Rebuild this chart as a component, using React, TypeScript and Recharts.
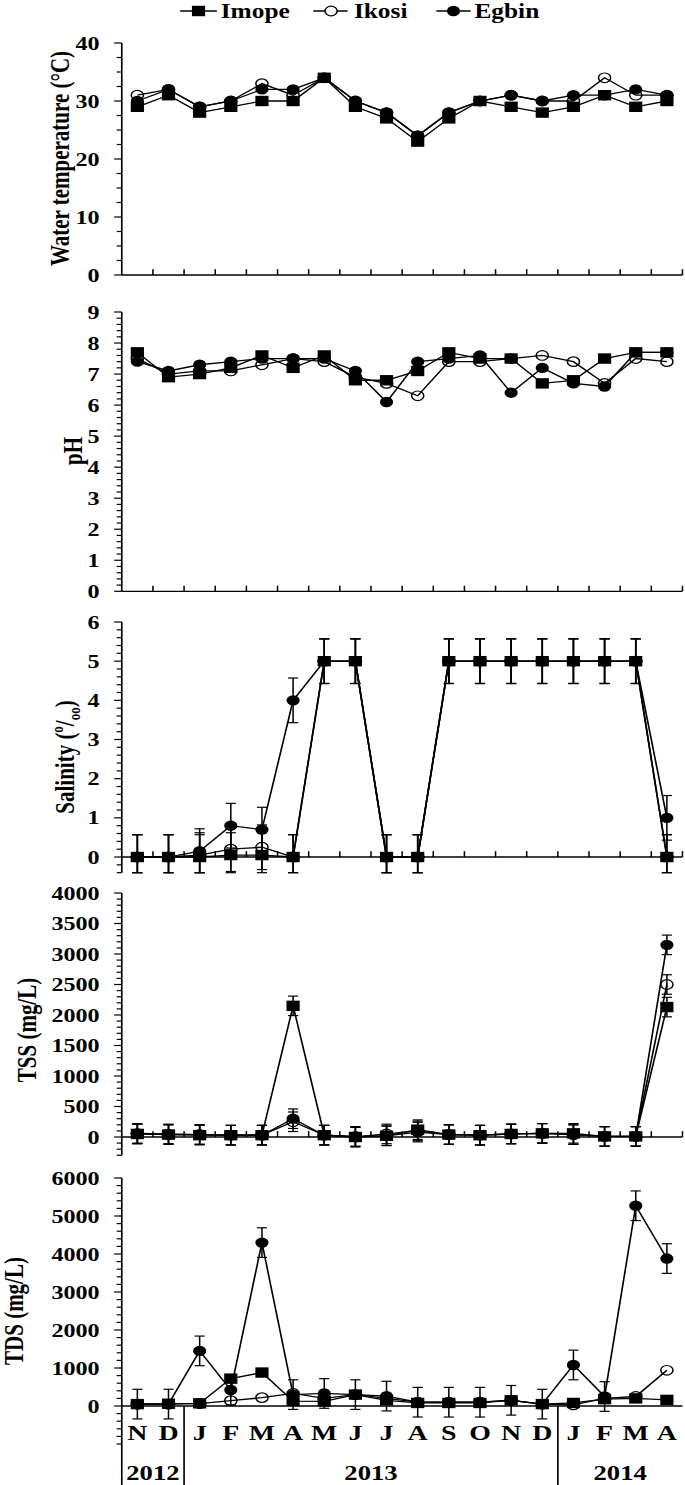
import React from "react";
import { LineChart, Line, XAxis, YAxis, ReferenceLine, ErrorBar } from "recharts";

// sampling months, Nov 2012 .. Apr 2014
const MONTHS = ["N", "D", "J", "F", "M", "A", "M", "J", "J", "A", "S", "O", "N", "D", "J", "F", "M", "A"];
const YEARS = ["2012", "2013", "2014"];
const YEAR_FIRST = [0, 2, 14];
const YEAR_LAST = [1, 13, 17];

const TEMP_IMOPE = [29, 31, 28, 29, 30, 30, 34, 29, 27, 23, 27, 30, 29, 28, 29, 31, 29, 30];
const TEMP_IKOSI = [31, 32, 29, 30, 33, 31, 34, 30, 28, 24, 28, 30, 31, 30, 30, 34, 31, 31];
const TEMP_EGBIN = [30, 32, 29, 30, 32, 32, 34, 30, 28, 24, 28, 30, 31, 30, 31, 31, 32, 31];

const PH_IMOPE = [7.7, 6.9, 7.0, 7.2, 7.6, 7.2, 7.6, 6.8, 6.8, 7.1, 7.7, 7.5, 7.5, 6.7, 6.8, 7.5, 7.7, 7.7];
const PH_IKOSI = [7.5, 7.0, 7.1, 7.1, 7.3, 7.5, 7.4, 6.9, 6.7, 6.3, 7.4, 7.4, 7.5, 7.6, 7.4, 6.7, 7.5, 7.4];
const PH_EGBIN = [7.4, 7.1, 7.3, 7.4, 7.5, 7.5, 7.5, 7.1, 6.1, 7.4, 7.5, 7.6, 6.4, 7.2, 6.7, 6.6, 7.7, 7.7];

const SAL_IMOPE = [0, 0, 0, 0.05, 0.05, 0, 5, 5, 0, 0, 5, 5, 5, 5, 5, 5, 5, 0];
const SAL_IKOSI = [0, 0, 0.05, 0.2, 0.25, 0, 5, 5, 0, 0, 5, 5, 5, 5, 5, 5, 5, 0];
const SAL_EGBIN = [0, 0, 0.15, 0.8, 0.7, 4, 5, 5, 0, 0, 5, 5, 5, 5, 5, 5, 5, 1];

const TSS_IMOPE = [50, 40, 30, 30, 30, 2150, 30, 0, 20, 120, 40, 30, 50, 60, 60, 10, 10, 2130];
const TSS_IKOSI = [50, 40, 40, 30, 30, 250, 30, 0, 50, 100, 40, 30, 50, 60, 40, 10, 10, 2500];
const TSS_EGBIN = [60, 50, 40, 30, 30, 300, 30, 10, 20, 80, 40, 30, 50, 60, 40, 10, 10, 3150];

const TDS_IMOPE = [50, 60, 70, 720, 880, 130, 120, 300, 150, 80, 80, 80, 150, 50, 80, 180, 200, 160];
const TDS_IKOSI = [50, 50, 60, 140, 220, 330, 200, 300, 200, 100, 100, 100, 150, 50, 30, 200, 250, 940];
const TDS_EGBIN = [50, 50, 1450, 420, 4300, 300, 330, 300, 260, 100, 100, 100, 150, 50, 1080, 250, 5270, 3880];

// fixed-size error bars
const SAL_ERR = 0.57;
const TSS_ERR = 160;
const TDS_ERR = 390;

// the source figure is stretched sideways, so draw narrow and scale it out
const W = 540;
const STRETCH = 685 / W;
const AXIS_W = 96;
const YEAR_ROW = 42;
const FONT = '"Liberation Serif", "Times New Roman", serif';
const BOUNDS = MONTHS.slice(1).map((_, i) => i + 0.5).concat(MONTHS.length - 0.5);
const MONTH_IDX = MONTHS.map((_, i) => i);
const YEAR_EDGES = YEAR_FIRST.map((f) => f - 0.5);
const YEAR_MIDS = YEAR_FIRST.map((f, j) => (f + YEAR_LAST[j]) / 2);

type Series = "imope" | "ikosi" | "egbin";

type Panel = {
  id: string;
  top: number;
  bottom: number;
  domain: [number, number];
  major: number[];
  minor: number;
  imope: number[];
  ikosi: number[];
  egbin: number[];
  err?: number;
  errOn?: Series[];
  xTick?: number;
  months?: boolean;
  floor?: number;
};

const PANELS: Panel[] = [
  { id: "temp", top: 43, bottom: 275, domain: [0, 40], major: [0, 10, 20, 30, 40], minor: 2.5,
    imope: TEMP_IMOPE, ikosi: TEMP_IKOSI, egbin: TEMP_EGBIN, xTick: 1 },
  { id: "ph", top: 311.7, bottom: 591, domain: [0, 9], major: [0, 1, 2, 3, 4, 5, 6, 7, 8, 9], minor: 0.2,
    imope: PH_IMOPE, ikosi: PH_IKOSI, egbin: PH_EGBIN, xTick: 0.18 },
  { id: "sal", top: 622, bottom: 872.7, domain: [-0.4, 6], major: [0, 1, 2, 3, 4, 5, 6], minor: 0.2,
    imope: SAL_IMOPE, ikosi: SAL_IKOSI, egbin: SAL_EGBIN, err: SAL_ERR, errOn: ["imope", "ikosi", "egbin"], xTick: 0.15 },
  { id: "tss", top: 893, bottom: 1155.3, domain: [-300, 4000], major: [0, 500, 1000, 1500, 2000, 2500, 3000, 3500, 4000], minor: 100,
    imope: TSS_IMOPE, ikosi: TSS_IKOSI, egbin: TSS_EGBIN, err: TSS_ERR, errOn: ["imope", "ikosi", "egbin"], xTick: 95 },
  { id: "tds", top: 1178, bottom: 1444, domain: [-1000, 6000], major: [0, 1000, 2000, 3000, 4000, 5000, 6000], minor: 200,
    imope: TDS_IMOPE, ikosi: TDS_IKOSI, egbin: TDS_EGBIN, err: TDS_ERR, errOn: ["egbin"], months: true, floor: -2110 },
];

function axisTicks(p: Panel) {
  const out: number[] = [];
  for (let v = p.domain[0]; v <= p.domain[1] + 1e-9; v += p.minor) out.push(Math.round(v * 1000) / 1000);
  return out;
}

const square = (d: any) => (
  <rect key={d.index} x={d.cx - 5.2} y={d.cy - 5.2} width={10.4} height={10.4} fill="#000" />
);
const ring = (d: any) => (
  <circle key={d.index} cx={d.cx} cy={d.cy} r={4.8} fill="none" stroke="#000" strokeWidth={1.2} />
);
const disc = (d: any) => <circle key={d.index} cx={d.cx} cy={d.cy} r={5.2} fill="#000" />;

function yTick(t: any, majors: number[]) {
  const v = t.payload.value;
  const isMajor = majors.some((m) => Math.abs(m - v) < 1e-6);
  return (
    <g key={t.index}>
      <line x1={t.x - (isMajor ? 6 : 4)} x2={t.x} y1={t.y} y2={t.y} stroke="#000" strokeWidth={1.2} />
      {isMajor && (
        <text x={t.x - 17.5} y={t.y} dy="0.35em" textAnchor="end" fontSize={19} fontWeight="bold" fontFamily={FONT} fill="#000">
          {v}
        </text>
      )}
    </g>
  );
}

const labelFont = (size: number) => ({ fontSize: size, fontWeight: "bold", fill: "#000", fontFamily: FONT });

function Chart({ p }: { p: Panel }) {
  // error bars are cut at the bottom of the plot, as in the figure
  const spread = (v: number) => (p.err ? [Math.min(p.err, v - p.domain[0]), p.err] : [0, 0]);
  const rows = MONTHS.map((m, i) => ({
    i,
    month: m,
    imope: p.imope[i],
    ikosi: p.ikosi[i],
    egbin: p.egbin[i],
    imopeErr: spread(p.imope[i]),
    ikosiErr: spread(p.ikosi[i]),
    egbinErr: spread(p.egbin[i]),
  }));
  const mt = 12;
  const mb = p.months ? 4 : 12;
  const h = mt + (p.bottom - p.top) + mb + (p.months ? YEAR_ROW : 0);
  const xDomain: [number, number] = [-0.5, MONTHS.length - 0.5];
  const bar = (s: Series) =>
    p.err && p.errOn?.includes(s) ? (
      <ErrorBar dataKey={s + "Err"} width={4} stroke="#000" strokeWidth={1.2} direction="y" />
    ) : null;

  return (
    <div style={{ position: "absolute", left: 0, top: p.top - mt }}>
      <LineChart width={W} height={h} data={rows} margin={{ top: mt, right: 2, bottom: mb, left: 0 }}>
        <XAxis
          dataKey="i"
          type="number"
          domain={xDomain}
          allowDataOverflow
          hide={!p.months}
          mirror
          ticks={MONTH_IDX}
          interval={0}
          tickFormatter={(v: number) => MONTHS[v]}
          axisLine={false}
          tickLine={false}
          tickSize={0}
          tickMargin={4}
          tick={labelFont(22)}
        />
        {p.months && (
          <XAxis
            xAxisId="yr"
            dataKey="i"
            type="number"
            domain={xDomain}
            allowDataOverflow
            ticks={YEAR_MIDS}
            interval={0}
            tickFormatter={(v: number) => YEARS[YEAR_MIDS.indexOf(v)]}
            height={YEAR_ROW}
            axisLine={false}
            tickLine={false}
            tickSize={0}
            tickMargin={21}
            tick={labelFont(21)}
          />
        )}
        <YAxis
          type="number"
          domain={p.domain}
          allowDataOverflow
          ticks={axisTicks(p)}
          interval={0}
          width={AXIS_W}
          tickSize={0}
          tickMargin={0}
          tickLine={false}
          axisLine={{ stroke: "#000", strokeWidth: 1.3 }}
          tick={(t: any) => yTick(t, p.major)}
        />
        <ReferenceLine y={0} stroke="#000" strokeWidth={1.3} ifOverflow="visible" />
        {p.xTick &&
          BOUNDS.map((b) => (
            <ReferenceLine
              key={"t" + b}
              segment={[{ x: b, y: 0 }, { x: b, y: p.xTick as number }]}
              stroke="#000"
              strokeWidth={1.2}
              ifOverflow="visible"
            />
          ))}
        {p.months &&
          YEAR_EDGES.map((b) => (
            <ReferenceLine
              key={"s" + b}
              segment={[{ x: b, y: b < 0 ? p.domain[0] : 0 }, { x: b, y: p.floor as number }]}
              stroke="#000"
              strokeWidth={1.3}
              ifOverflow="visible"
            />
          ))}
        <Line type="linear" dataKey="imope" stroke="#000" strokeWidth={1.3} dot={square} activeDot={false} isAnimationActive={false}>
          {bar("imope")}
        </Line>
        <Line type="linear" dataKey="ikosi" stroke="#000" strokeWidth={1.3} dot={ring} activeDot={false} isAnimationActive={false}>
          {bar("ikosi")}
        </Line>
        <Line type="linear" dataKey="egbin" stroke="#000" strokeWidth={1.3} dot={disc} activeDot={false} isAnimationActive={false}>
          {bar("egbin")}
        </Line>
      </LineChart>
    </div>
  );
}

const TITLES = [
  { x: 47, y: 158.5, text: "Water temperature (\u00B0C)" },
  { x: 58, y: 451, text: "pH" },
  { x: 21, y: 1030, text: "TSS (mg/L)" },
  { x: 11, y: 1311, text: "TDS (mg/L)" },
];

function Overlay() {
  const txt = { fontFamily: FONT, fontWeight: "bold" as const, fill: "#000" };
  return (
    <svg width={W} height={1485} style={{ position: "absolute", left: 0, top: 0 }}>
      {/* legend */}
      <line x1={142} x2={171} y1={11} y2={11} stroke="#000" strokeWidth={1.3} />
      <rect x={151.3} y={5.8} width={10.4} height={10.4} fill="#000" />
      <text x={174} y={18} fontSize={20} {...txt}>Imope</text>
      <line x1={247} x2={274} y1={11} y2={11} stroke="#000" strokeWidth={1.3} />
      <circle cx={261} cy={11} r={4.8} fill="#fff" stroke="#000" strokeWidth={1.2} />
      <text x={279} y={18} fontSize={20} {...txt}>Ikosi</text>
      <line x1={344} x2={371} y1={11} y2={11} stroke="#000" strokeWidth={1.3} />
      <circle cx={357.5} cy={11} r={5.2} fill="#000" />
      <text x={374} y={18} fontSize={20} {...txt}>Egbin</text>

      {TITLES.map((t) => (
        <text key={t.text} transform={`translate(${t.x},${t.y}) rotate(-90)`} dy={7} textAnchor="middle" fontSize={21} {...txt}>
          {t.text}
        </text>
      ))}
      <text transform="translate(51,757) rotate(-90)" dy={7} textAnchor="middle" fontSize={21} {...txt}>
        Salinity (<tspan fontSize={13} dy={-8}>o</tspan>
        <tspan dy={8}>/</tspan>
        <tspan fontSize={13} dy={5}>oo</tspan>
        <tspan dy={-5}>)</tspan>
      </text>
    </svg>
  );
}

export default function App() {
  return (
    <div
      style={{
        position: "absolute",
        left: 0,
        top: 0,
        width: W,
        height: 1485,
        transform: `scaleX(${STRETCH})`,
        transformOrigin: "0 0",
        fontFamily: FONT,
      }}
    >
      {PANELS.map((p) => (
        <Chart key={p.id} p={p} />
      ))}
      <Overlay />
    </div>
  );
}
